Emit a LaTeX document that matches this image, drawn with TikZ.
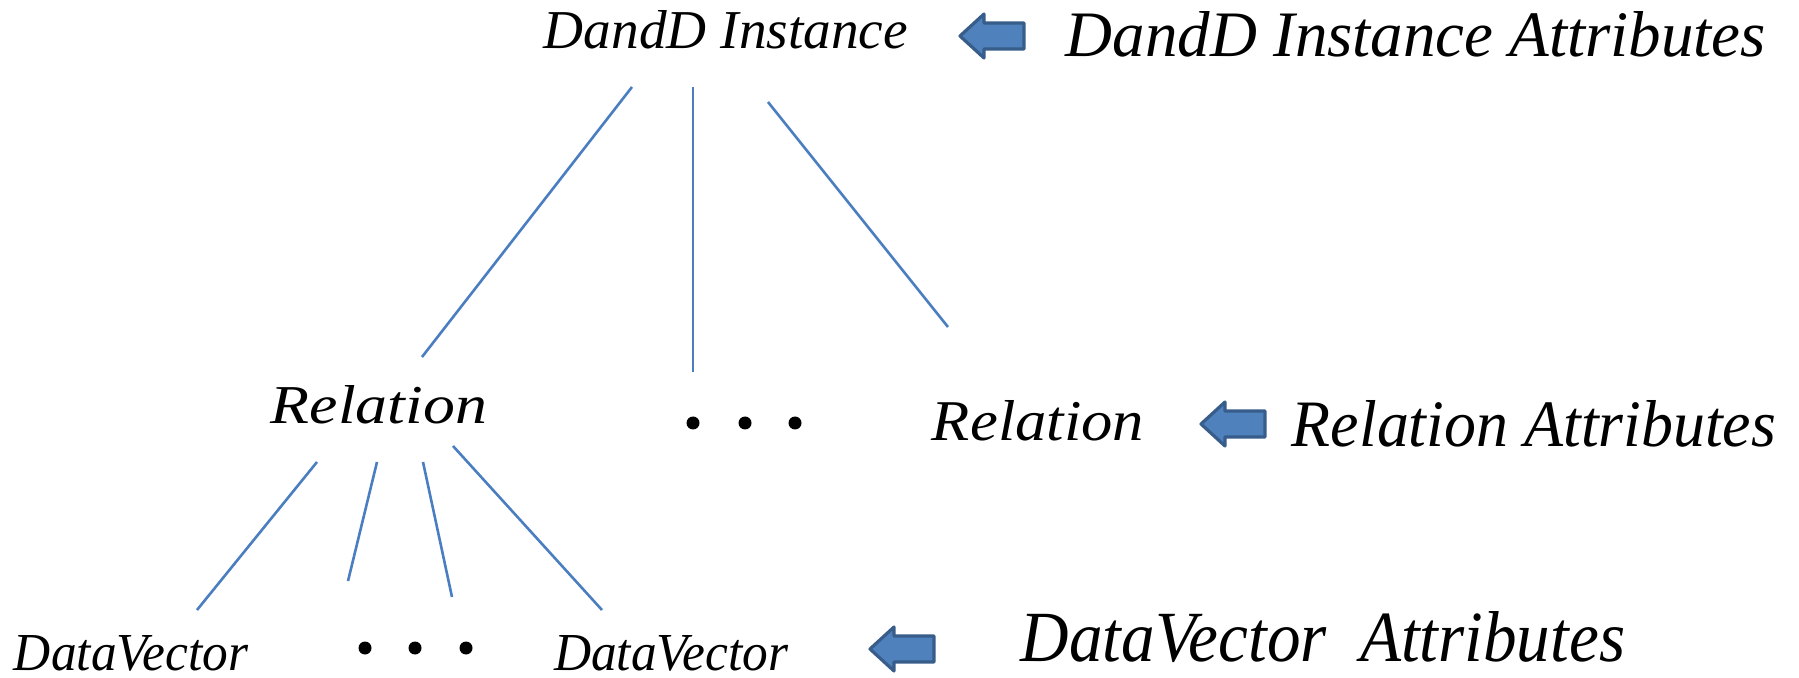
\documentclass[tikz,border=0pt]{standalone}
\usepackage{graphicx}
\usepackage{fontspec}
\setmainfont{Liberation Serif}
\definecolor{linkblue}{RGB}{74,126,193}
\definecolor{arrfill}{RGB}{79,129,189}
\definecolor{arrline}{RGB}{56,93,138}
\newcommand\fitt[3]{\resizebox{#1}{#2}{\itshape #3}}
\begin{document}
\begin{tikzpicture}[x=0.5pt,y=-0.5pt,
  link/.style={draw=linkblue,line width=1.3pt},
  lbl/.style={inner sep=0pt,anchor=base,text=black},
  dotmark/.style={circle,fill=black,inner sep=0pt,minimum size=6.5pt},
  pointer/.style={fill=arrfill,draw=arrline,line width=1.6pt,line join=round}]
\useasboundingbox (0,0) rectangle (1799,678);
% text
\node[lbl] (dd) at (726,49) {\fitt{182pt}{19pt}{DandD\ Instance}};
\node[lbl] (ddA) at (1416,57) {\fitt{350pt}{22.5pt}{DandD Instance Attributes}};
\node[lbl] (r1) at (379,423) {\fitt{108pt}{19pt}{Relation}};
\node[lbl] (r2) at (1038,440) {\fitt{106pt}{20pt}{Relation}};
\node[lbl] (rA) at (1534,446) {\fitt{242pt}{23pt}{Relation Attributes}};
\node[lbl] (dv1) at (131,670) {\fitt{117pt}{17.5pt}{DataVector}};
\node[lbl] (dv2) at (671,670) {\fitt{117pt}{17.5pt}{DataVector}};
\node[lbl] (dvA) at (1323,661) {\fitt{302pt}{25pt}{DataVector\ \ Attributes}};
% dots
\node[dotmark] (m1) at (693,423) {};
\node[dotmark] (m2) at (745,423) {};
\node[dotmark] (m3) at (795,423) {};
\node[dotmark] (b1) at (365,648) {};
\node[dotmark] (b2) at (415,648) {};
\node[dotmark] (b3) at (466,648) {};
% connector ends
\coordinate (t1) at (632,87);  \coordinate (u1) at (422,357);
\coordinate (t2) at (693,87);  \coordinate (u2) at (693,372);
\coordinate (t3) at (768,102); \coordinate (u3) at (948,327);
\coordinate (s1) at (317,462); \coordinate (v1) at (197,610);
\coordinate (s2) at (377,462); \coordinate (v2) at (348,581);
\coordinate (s3) at (423,462); \coordinate (v3) at (452,597);
\coordinate (s4) at (453,446); \coordinate (v4) at (602,610);
\draw[link] (t1) -- (u1);
\draw[link] (t2) -- (u2);
\draw[link] (t3) -- (u3);
\draw[link] (s1) -- (v1);
\draw[link] (s2) -- (v2);
\draw[link] (s3) -- (v3);
\draw[link] (s4) -- (v4);
% block arrows
\foreach \n/\x/\y in {pa/960/36, pb/1201/424, pc/870/649}{
  \draw[pointer] (\x,\y) -- ++(24,-22) -- ++(0,9) -- ++(40,0) -- ++(0,26) -- ++(-40,0) -- ++(0,9) -- cycle;
}
\end{tikzpicture}
\end{document}
